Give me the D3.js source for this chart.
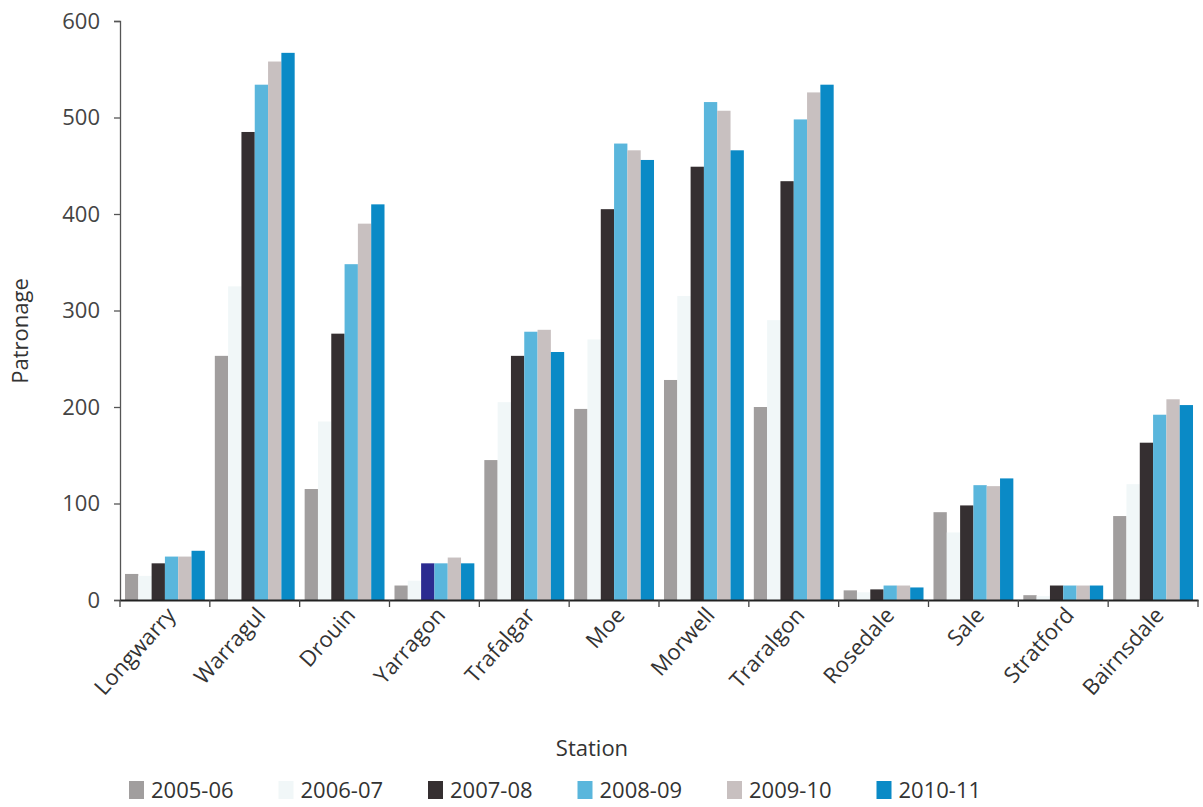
<!DOCTYPE html>
<html>
<head>
<meta charset="utf-8">
<script src="https://cdn.jsdelivr.net/npm/d3@7"></script>
<style>
  body { margin: 0; background: #fff; }
  text { font-family: "Open Sans", "Noto Sans", sans-serif; fill: #333; }
</style>
</head>
<body>
<div id="chart"></div>
<script>
'use strict';

const stations = ['Longwarry', 'Warragul', 'Drouin', 'Yarragon', 'Trafalgar', 'Moe',
  'Morwell', 'Traralgon', 'Rosedale', 'Sale', 'Stratford', 'Bairnsdale'];
const years = ['2005-06', '2006-07', '2007-08', '2008-09', '2009-10', '2010-11'];

// patronage per station, one array per year
const y0506 = [27, 253, 115, 15, 145, 198, 228, 200, 10, 91, 5, 87];
const y0607 = [25, 325, 185, 20, 205, 270, 315, 290, 8, 70, 4, 120];
const y0708 = [38, 485, 276, 38, 253, 405, 449, 434, 11, 98, 15, 163];
const y0809 = [45, 534, 348, 38, 278, 473, 516, 498, 15, 119, 15, 192];
const y0910 = [45, 558, 390, 44, 280, 466, 507, 526, 15, 118, 15, 208];
const y1011 = [51, 567, 410, 38, 257, 456, 466, 534, 13, 126, 15, 202];

const yTicks = [0, 100, 200, 300, 400, 500, 600];

const series = [y0506, y0607, y0708, y0809, y0910, y1011];
const colors = ['#a19e9e', '#f1f7f8', '#352f31', '#5ab6dc', '#c8c0c0', '#0a8ac6'];
// one odd bar in the original is drawn in navy
const oddBar = { station: 'Yarragon', year: '2007-08', color: '#2b2b90' };

const width = 1203, height = 807;
const margin = { top: 21, right: 5, bottom: 207, left: 120 };
const fs = 22;

const svg = d3.select('#chart').append('svg')
  .attr('width', width)
  .attr('height', height);

const x0 = d3.scaleBand()
  .domain(stations)
  .range([margin.left, width - margin.right])
  .padding(0);

const x1 = d3.scaleBand()
  .domain(years)
  .range([0, x0.bandwidth()])
  .paddingInner(0)
  .paddingOuter(0.375);

const y = d3.scaleLinear()
  .domain([0, 600])
  .range([height - margin.bottom, margin.top]);

const color = d3.scaleOrdinal().domain(years).range(colors);

// bars
const groups = svg.append('g').selectAll('g')
  .data(stations)
  .join('g')
  .attr('transform', d => 'translate(' + x0(d) + ',0)');

groups.selectAll('rect')
  .data((s, i) => years.map((yr, k) => ({ station: s, year: yr, value: series[k][i] })))
  .join('rect')
  .attr('x', d => x1(d.year))
  .attr('width', x1.bandwidth())
  .attr('y', d => y(d.value))
  .attr('height', d => y(0) - y(d.value))
  .attr('fill', d => (d.station === oddBar.station && d.year === oddBar.year) ? oddBar.color : color(d.year));

// y axis
const yAxis = svg.append('g')
  .attr('transform', 'translate(' + margin.left + ',0)')
  .call(d3.axisLeft(y).tickValues(yTicks).tickSize(6).tickPadding(14));
yAxis.select('.domain').attr('stroke', '#555').attr('stroke-width', 1.3);
yAxis.selectAll('.tick line').attr('stroke', '#555').attr('stroke-width', 1.3);
yAxis.selectAll('.tick text').attr('font-size', fs).style('fill', '#444');

// x axis
const xAxis = svg.append('g')
  .attr('transform', 'translate(0,' + y(0) + ')')
  .call(d3.axisBottom(x0).tickSize(0).tickPadding(0));
xAxis.select('.domain').attr('stroke', '#222').attr('stroke-width', 2);
xAxis.selectAll('.tick text')
  .attr('font-size', fs)
  .style('fill', '#333')
  .attr('text-anchor', 'end')
  .attr('dy', 0)
  .attr('transform', 'translate(12,16) rotate(-48)');

// category boundary ticks
svg.append('g').selectAll('line')
  .data(stations.concat(['__end']))
  .join('line')
  .attr('x1', d => d === '__end' ? width - margin.right : x0(d))
  .attr('x2', d => d === '__end' ? width - margin.right : x0(d))
  .attr('y1', y(0))
  .attr('y2', y(0) + 7)
  .attr('stroke', '#444')
  .attr('stroke-width', 1.3);

// axis titles
svg.append('text')
  .attr('x', 592)
  .attr('y', 756)
  .attr('text-anchor', 'middle')
  .attr('font-size', fs)
  .text('Station');

svg.append('text')
  .attr('transform', 'translate(28,' + (margin.top + 310) + ') rotate(-90)')
  .attr('text-anchor', 'middle')
  .attr('font-size', fs)
  .text('Patronage');

// legend
const legend = svg.append('g')
  .attr('transform', 'translate(129,781)');

const item = legend.selectAll('g')
  .data(years)
  .join('g')
  .attr('transform', (d, i) => 'translate(' + (i * 149.5) + ',0)');

item.append('rect')
  .attr('width', 15)
  .attr('height', 18)
  .attr('fill', d => color(d));

item.append('text')
  .attr('x', 22)
  .attr('y', 17)
  .attr('font-size', fs)
  .text(d => d);
</script>
</body>
</html>
